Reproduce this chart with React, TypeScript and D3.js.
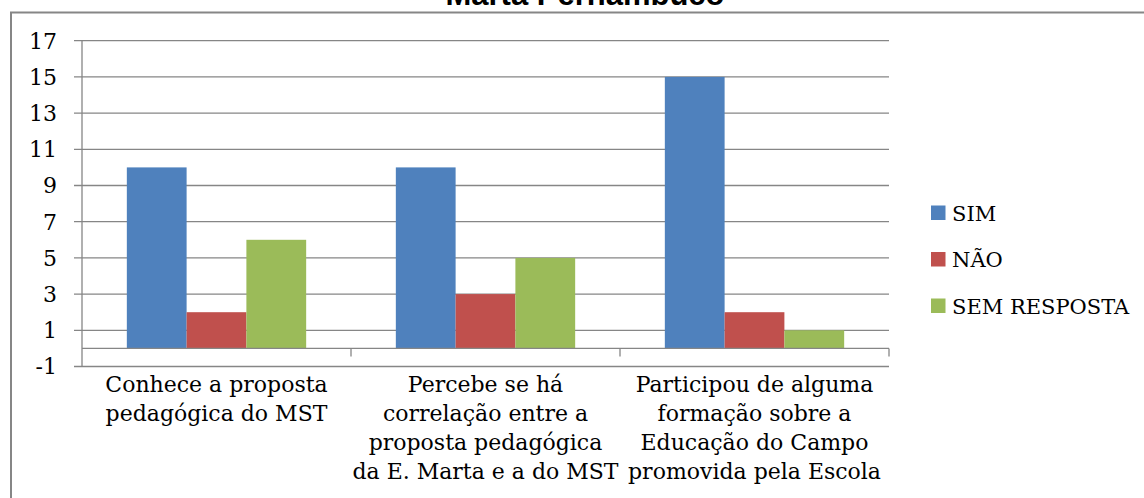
import React from 'react';
import { scaleLinear, scaleBand, range } from 'd3';

// values
const categories = ['Conhece', 'Percebe', 'Participou'];
const categoryLines = [
  ['Conhece a proposta', 'pedagógica do MST'],
  ['Percebe se há', 'correlação entre a', 'proposta pedagógica', 'da E. Marta e a do MST'],
  ['Participou de alguma', 'formação sobre a', 'Educação do Campo', 'promovida pela Escola'],
];
const seriesNames = ['SIM', 'NÃO', 'SEM RESPOSTA'];
const seriesColors = ['#4F81BD', '#C0504D', '#9BBB59'];
const sim = [10, 10, 15];
const nao = [2, 3, 2];
const semResposta = [6, 5, 1];
const yTicks = [-1, 1, 3, 5, 7, 9, 11, 13, 15, 17];
const title = 'Marta Pernambuco';

const seriesValues = [sim, nao, semResposta];

export default function App() {
  const width = 1144;
  const height = 498;
  const plot = { left: 82, right: 889, top: 40.7, bottom: 366.5 };
  const grid = '#868686';
  const serif = '"DejaVu Serif", serif';

  const yScale = scaleLinear().domain([-1, 17]).range([plot.bottom, plot.top]);
  const xScale = scaleBand<string>().domain(categories).range([plot.left, plot.right]).paddingInner(0).paddingOuter(0);
  // bars fill 2/3 of each category, gap split on both sides
  const barGroup = scaleBand<number>()
    .domain(range(seriesNames.length))
    .range([0, xScale.bandwidth()])
    .paddingInner(0)
    .paddingOuter(0.75);

  const y0 = yScale(0);

  return (
    <svg width={width} height={height} style={{ position: 'absolute', left: 0, top: 0, background: '#fff' }}>
      {/* chart frame */}
      <rect x={11} y={12.5} width={1200} height={600} fill="none" stroke={grid} strokeWidth={2} />
      <text x={585} y={5} textAnchor="middle" fontFamily='"Liberation Sans", Arial, sans-serif' fontWeight="bold" fontSize={31} fill="#000">
        {title}
      </text>

      {/* gridlines + y ticks */}
      {yTicks.map(t => (
        <g key={t}>
          <line x1={plot.left - 8} x2={plot.right} y1={yScale(t)} y2={yScale(t)} stroke={grid} strokeWidth={1.3} />
          <text x={57} y={yScale(t)} dy="0.36em" textAnchor="end" fontFamily={serif} fontSize={22} fill="#000">
            {t}
          </text>
        </g>
      ))}
      <line x1={plot.left} x2={plot.left} y1={plot.top} y2={plot.bottom} stroke={grid} strokeWidth={1.3} />

      {/* bars */}
      {categories.map((c, ci) => (
        <g key={c} transform={`translate(${xScale(c)},0)`}>
          {seriesValues.map((vals, si) => {
            const v = vals[ci];
            return (
              <rect
                key={si}
                x={barGroup(si)}
                y={yScale(Math.max(v, 0))}
                width={barGroup.bandwidth()}
                height={Math.abs(yScale(v) - y0)}
                fill={seriesColors[si]}
              />
            );
          })}
        </g>
      ))}

      {/* category axis at zero */}
      <line x1={plot.left} x2={plot.right} y1={y0} y2={y0} stroke={grid} strokeWidth={1.3} />
      {categories.map(c => (
        <line key={c} x1={(xScale(c) as number) + xScale.bandwidth()} x2={(xScale(c) as number) + xScale.bandwidth()} y1={y0} y2={y0 + 8} stroke={grid} strokeWidth={1.3} />
      ))}

      {/* category labels */}
      {categories.map((c, ci) => (
        <text key={c} textAnchor="middle" fontFamily={serif} fontSize={22} fill="#000">
          {categoryLines[ci].map((line, li) => (
            <tspan key={li} x={(xScale(c) as number) + xScale.bandwidth() / 2} y={392 + li * 29}>
              {line}
            </tspan>
          ))}
        </text>
      ))}

      {/* legend */}
      {seriesNames.map((name, i) => (
        <g key={name} transform={`translate(931,${213 + i * 46.5})`}>
          <rect x={0} y={-7.5} width={14.5} height={14.5} fill={seriesColors[i]} />
          <text x={21} y={0} dy="0.36em" fontFamily={serif} fontSize={21} fill="#000">
            {name}
          </text>
        </g>
      ))}
    </svg>
  );
}
